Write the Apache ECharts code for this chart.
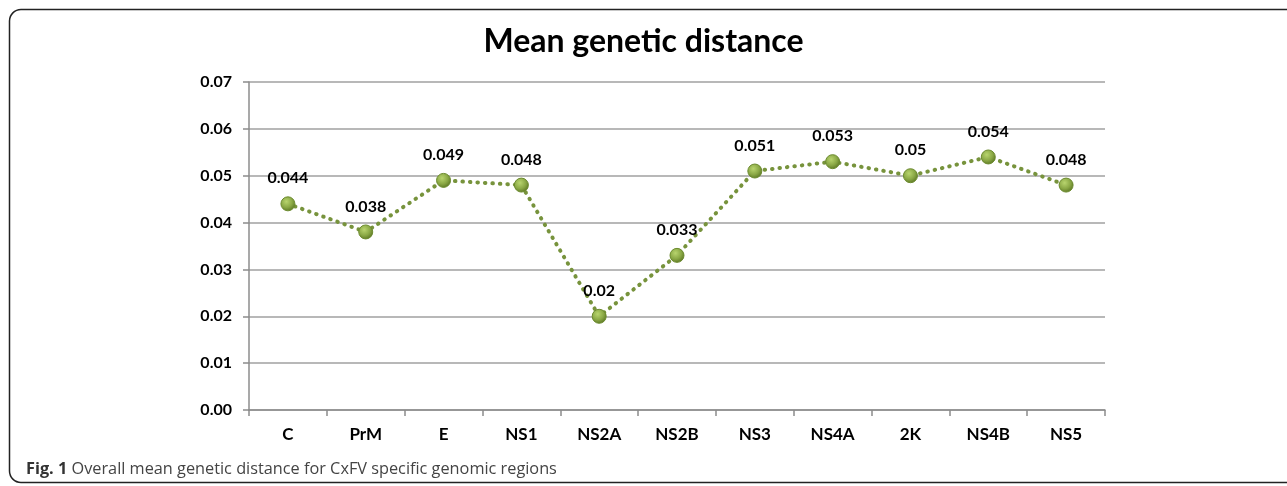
<!DOCTYPE html>
<html>
<head>
<meta charset="utf-8">
<script src="https://cdn.jsdelivr.net/npm/echarts@6/dist/echarts.min.js"></script>
<style>
html,body{margin:0;padding:0;background:#fff;overflow:hidden;}
#chart{width:1287px;height:486px;}
</style>
</head>
<body>
<div id="chart"></div>
<script>
var categories = ['C','PrM','E','NS1','NS2A','NS2B','NS3','NS4A','2K','NS4B','NS5'];
var values = [0.044,0.038,0.049,0.048,0.02,0.033,0.051,0.053,0.05,0.054,0.048];
var labels = ['0.044','0.038','0.049','0.048','0.02','0.033','0.051','0.053','0.05','0.054','0.048'];
var titleText = 'Mean genetic distance';
var captionBold = 'Fig. 1';
var captionText = ' Overall mean genetic distance for CxFV specific genomic regions';

var chart = echarts.init(document.getElementById('chart'));
var font = 'Lato, "Open Sans", sans-serif';
var borderStyle = {fill:'none', stroke:'#222', lineWidth: 1.5};
chart.setOption({
  animation: false,
  title: {
    text: titleText,
    left: 'center',
    top: 21,
    textStyle: {fontFamily: font, fontSize: 32, fontWeight: 'bold', color: '#000'}
  },
  graphic: [
    {type:'line', silent:true, shape:{x1:21, y1:9.5, x2:1300, y2:9.5}, style:borderStyle},
    {type:'line', silent:true, shape:{x1:9.5, y1:21, x2:9.5, y2:471}, style:borderStyle},
    {type:'line', silent:true, shape:{x1:21, y1:482.5, x2:1300, y2:482.5}, style:borderStyle},
    {type:'arc', silent:true, shape:{cx:21, cy:21, r:11.5, startAngle:Math.PI, endAngle:Math.PI*1.5}, style:borderStyle},
    {type:'arc', silent:true, shape:{cx:21, cy:471, r:11.5, startAngle:Math.PI*0.5, endAngle:Math.PI}, style:borderStyle},
    {type:'text', left: 26, top: 461, z: 10,
     style:{text: '{b|' + captionBold + '}{n|' + captionText + '}',
       rich:{
         b:{fontFamily:'"Open Sans", sans-serif', fontWeight:'bold', fontSize:16.3, fill:'#333'},
         n:{fontFamily:'"Open Sans", sans-serif', fontSize:16.3, fill:'#444'}
       }}}
  ],
  grid: {left: 249, right: 182, top: 82, bottom: 76},
  xAxis: {
    type: 'category',
    data: categories,
    boundaryGap: true,
    axisLine: {lineStyle: {color: '#8c8c8c', width: 1.5}},
    axisTick: {show: true, alignWithLabel: false, length: 6, lineStyle:{color:'#8c8c8c', width:1.5}},
    axisLabel: {fontFamily: font, fontWeight: 'bold', fontSize: 17, color: '#000', margin: 16}
  },
  yAxis: {
    type: 'value',
    min: 0, max: 0.07, interval: 0.01,
    axisLine: {show: true, lineStyle: {color: '#8c8c8c', width: 1.5}},
    axisTick: {show: true, length: 6, lineStyle:{color:'#8c8c8c', width:1.5}},
    splitLine: {lineStyle: {color: '#a0a0a0', width: 1.5}},
    axisLabel: {fontFamily: font, fontWeight: 'bold', fontSize: 16, color: '#000', margin: 17,
      formatter: function(v){ return v.toFixed(2); }}
  },
  series: [{
    type: 'line',
    data: values,
    symbol: 'circle',
    symbolSize: 14,
    lineStyle: {color: '#77933C', width: 4, type: [0.5, 7], cap: 'round'},
    itemStyle: {
      color: {type:'radial', x:0.4, y:0.35, r:0.65,
        colorStops:[{offset:0,color:'#b8d46e'},{offset:0.6,color:'#8aa845'},{offset:1,color:'#5f7a26'}]},
      borderColor: '#6b8a2e', borderWidth: 1
    },
    label: {
      show: true, position: 'top', distance: 10,
      fontFamily: font, fontWeight: 'bold', fontSize: 16, color: '#000',
      formatter: function(p){ return labels[p.dataIndex]; }
    }
  }]
});
</script>
</body>
</html>
